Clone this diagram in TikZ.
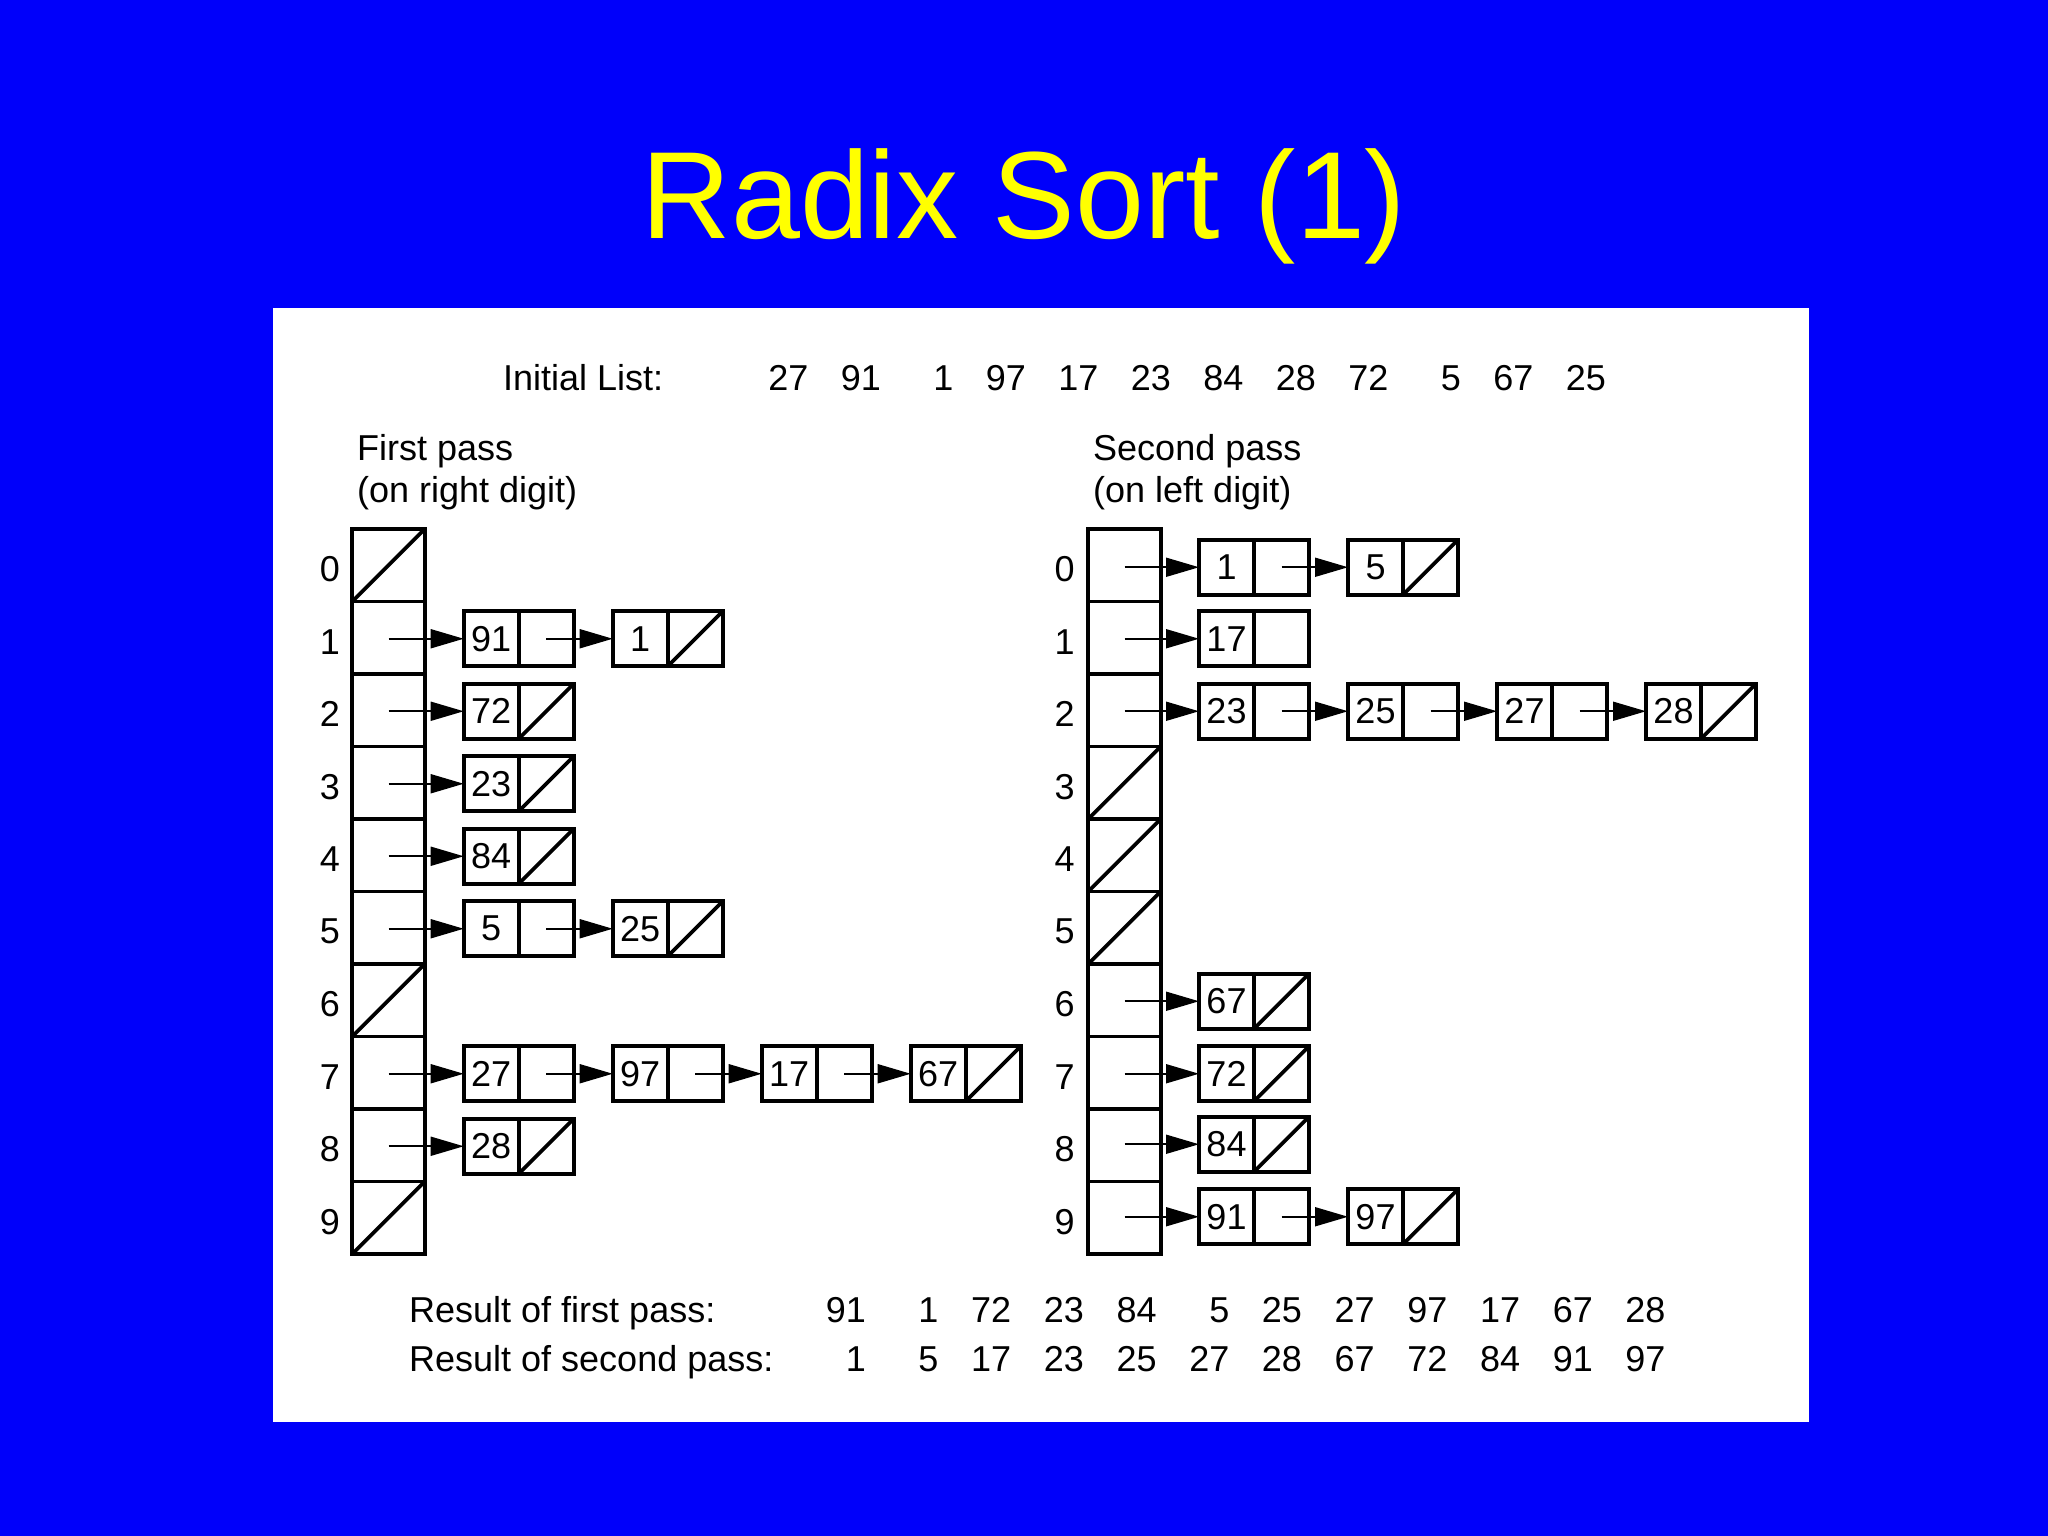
\documentclass[tikz,border=0pt]{standalone}
\usepackage{fontspec}
\setmainfont{Liberation Sans}
\usetikzlibrary{arrows.meta}
\definecolor{slideblue}{RGB}{0,0,250}
\definecolor{titleyellow}{RGB}{255,255,0}
\newcommand\listcell[5]{% name, x of left edge, y centre, value, null pointer (1/0)
  \node[cellbox] (#1v) at (#2+27.5,#3) {#4};
  \node[cellbox] (#1p) at (#2+82.5,#3) {};
  \ifnum#5=1 \draw[nullslash] (#1p.south west) -- (#1p.north east);\fi
}
\begin{document}
\begin{tikzpicture}[x=1pt,y=-1pt,
  cellbox/.style={draw, line width=3.8pt, minimum width=55pt, minimum height=55pt, inner sep=0pt, outer sep=0pt, font=\fontsize{36}{40}\selectfont},
  bucket/.style={draw, line width=3.8pt, minimum width=72.5pt, minimum height=72.5pt, inner sep=0pt, outer sep=0pt},
  ptr/.style={line width=1.8pt, -{Triangle[length=33pt,width=19pt]}},
  nullslash/.style={line width=3.8pt},
  lbl/.style={font=\fontsize{36}{40}\selectfont, inner sep=0pt},
  titletext/.style={font=\fontsize{124}{150}\selectfont, text=titleyellow, inner sep=0pt},
]
\fill[slideblue] (0,0) rectangle (2048,1536);
\useasboundingbox (0,0) rectangle (2048,1536);
\fill[white] (273,308) rectangle (1809,1422);

\node[titletext, anchor=base] (title) at (1024,238) {Radix Sort (1)};

% initial list
\node[lbl, anchor=base west] (initlab) at (503,390.5) {Initial List:};
\foreach \v [count=\k from 0] in {27,91,1,97,17,23,84,28,72,5,67,25}
  \node[lbl, anchor=base east] (init\k) at (808.5+72.5*\k,390.5) {\v};

% pass headings
\node[lbl, anchor=base west] (fp1) at (357,460) {First pass};
\node[lbl, anchor=base west] (fp2) at (357,502) {(on right digit)};
\node[lbl, anchor=base west] (sp1) at (1093,460) {Second pass};
\node[lbl, anchor=base west] (sp2) at (1093,502) {(on left digit)};

% bucket columns
\foreach \i in {0,...,9} {
  \node[bucket] (Lb\i) at (388.5,565.25+72.5*\i) {};
  \node[bucket] (Rb\i) at (1124.5,565.25+72.5*\i) {};
  \node[lbl] (Ll\i) at (330,569.25+72.5*\i) {\i};
  \node[lbl] (Rl\i) at (1064.5,569.25+72.5*\i) {\i};
}
\foreach \i in {0,6,9} \draw[nullslash] (Lb\i.south west) -- (Lb\i.north east);
\foreach \i in {3,4,5} \draw[nullslash] (Rb\i.south west) -- (Rb\i.north east);

% ---- first pass lists ----
\listcell{La1}{463.7}{638.75}{91}{0}
\listcell{Lb1x}{612.7}{638.75}{1}{1}
\listcell{La2}{463.7}{711.25}{72}{1}
\listcell{La3}{463.7}{783.75}{23}{1}
\listcell{La4}{463.7}{856.25}{84}{1}
\listcell{La5}{463.7}{928.75}{5}{0}
\listcell{Lb5x}{612.7}{928.75}{25}{1}
\listcell{La7}{463.7}{1073.75}{27}{0}
\listcell{Lb7x}{612.7}{1073.75}{97}{0}
\listcell{Lc7x}{761.7}{1073.75}{17}{0}
\listcell{Ld7x}{910.7}{1073.75}{67}{1}
\listcell{La8}{463.7}{1146.25}{28}{1}

\draw[ptr] (Lb1.center |- La1v.west) -- (La1v.west);
\draw[ptr] (La1p.center) -- (Lb1xv.west);
\draw[ptr] (Lb2.center |- La2v.west) -- (La2v.west);
\draw[ptr] (Lb3.center |- La3v.west) -- (La3v.west);
\draw[ptr] (Lb4.center |- La4v.west) -- (La4v.west);
\draw[ptr] (Lb5.center |- La5v.west) -- (La5v.west);
\draw[ptr] (La5p.center) -- (Lb5xv.west);
\draw[ptr] (Lb7.center |- La7v.west) -- (La7v.west);
\draw[ptr] (La7p.center) -- (Lb7xv.west);
\draw[ptr] (Lb7xp.center) -- (Lc7xv.west);
\draw[ptr] (Lc7xp.center) -- (Ld7xv.west);
\draw[ptr] (Lb8.center |- La8v.west) -- (La8v.west);

% ---- second pass lists ----
\listcell{Ra0}{1199}{567.25}{1}{0}
\listcell{Rb0x}{1348}{567.25}{5}{1}
\listcell{Ra1}{1199}{638.75}{17}{0}
\listcell{Ra2}{1199}{711.25}{23}{0}
\listcell{Rb2x}{1348}{711.25}{25}{0}
\listcell{Rc2x}{1497}{711.25}{27}{0}
\listcell{Rd2x}{1646}{711.25}{28}{1}
\listcell{Ra6}{1199}{1001.25}{67}{1}
\listcell{Ra7}{1199}{1073.75}{72}{1}
\listcell{Ra8}{1199}{1144.25}{84}{1}
\listcell{Ra9}{1199}{1216.75}{91}{0}
\listcell{Rb9x}{1348}{1216.75}{97}{1}

\draw[ptr] (Rb0.center |- Ra0v.west) -- (Ra0v.west);
\draw[ptr] (Ra0p.center) -- (Rb0xv.west);
\draw[ptr] (Rb1.center |- Ra1v.west) -- (Ra1v.west);
\draw[ptr] (Rb2.center |- Ra2v.west) -- (Ra2v.west);
\draw[ptr] (Ra2p.center) -- (Rb2xv.west);
\draw[ptr] (Rb2xp.center) -- (Rc2xv.west);
\draw[ptr] (Rc2xp.center) -- (Rd2xv.west);
\draw[ptr] (Rb6.center |- Ra6v.west) -- (Ra6v.west);
\draw[ptr] (Rb7.center |- Ra7v.west) -- (Ra7v.west);
\draw[ptr] (Rb8.center |- Ra8v.west) -- (Ra8v.west);
\draw[ptr] (Rb9.center |- Ra9v.west) -- (Ra9v.west);
\draw[ptr] (Ra9p.center) -- (Rb9xv.west);

% results
\node[lbl, anchor=base west] (res1) at (409,1322) {Result of first pass:};
\node[lbl, anchor=base west] (res2) at (409,1371) {Result of second pass:};
\foreach \v [count=\k from 0] in {91,1,72,23,84,5,25,27,97,17,67,28}
  \node[lbl, anchor=base east] (rf\k) at (866+72.7*\k,1322) {\v};
\foreach \v [count=\k from 0] in {1,5,17,23,25,27,28,67,72,84,91,97}
  \node[lbl, anchor=base east] (rs\k) at (866+72.7*\k,1371) {\v};
\end{tikzpicture}
\end{document}
